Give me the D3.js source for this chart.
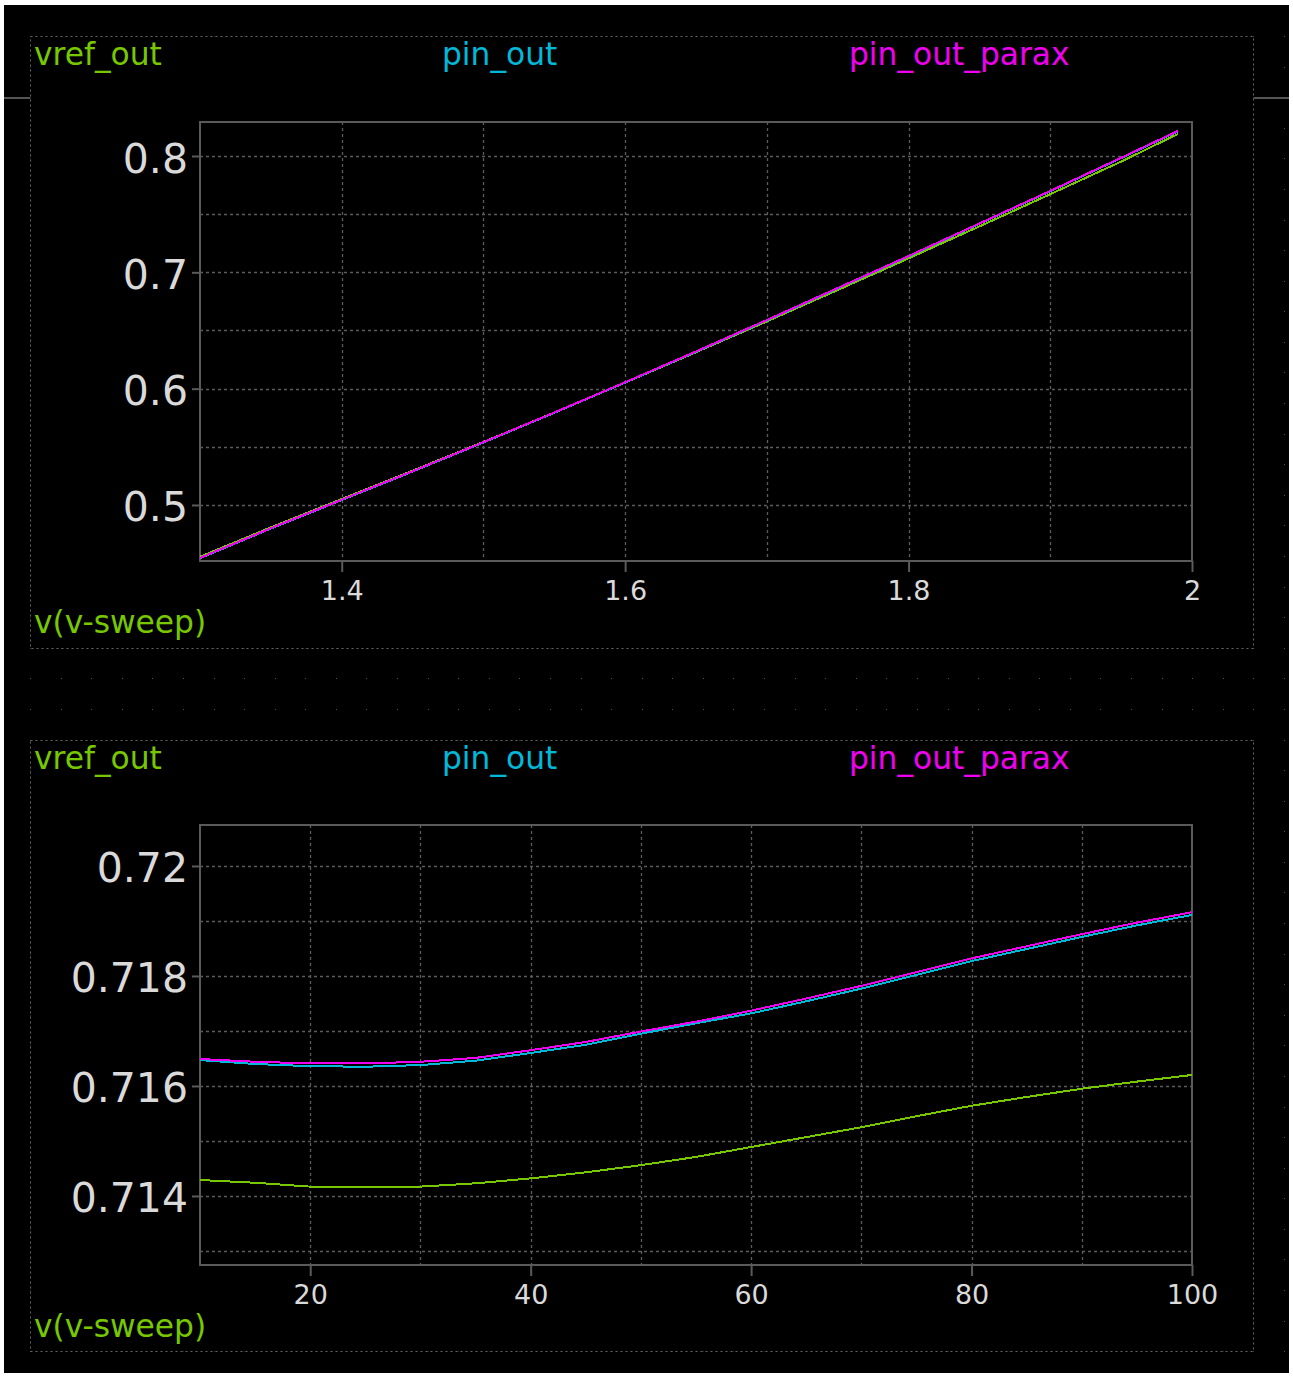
<!DOCTYPE html>
<html>
<head>
<meta charset="utf-8">
<script src="https://cdn.jsdelivr.net/npm/d3@7"></script>
<style>
  html, body { margin: 0; padding: 0; background: #fff; }
  svg { display: block; }
  text { font-family: "DejaVu Sans", sans-serif; }
</style>
</head>
<body>
<script>
// ---- Panel 1: DC sweep of v-sweep ----
const sweepV = [1.3, 1.35, 1.4, 1.45, 1.5, 1.55, 1.6, 1.65, 1.7, 1.75, 1.8, 1.85, 1.9, 1.95, 1.99];
const vrefOutDC = [0.4555, 0.4808, 0.5052, 0.5295, 0.5542, 0.5795, 0.6052, 0.6313, 0.6578, 0.6848, 0.7120, 0.7395, 0.7672, 0.7952, 0.8189];
const pinOutDC = [0.4542, 0.4797, 0.5042, 0.5287, 0.5537, 0.5792, 0.6052, 0.6317, 0.6587, 0.6862, 0.7137, 0.7417, 0.7697, 0.7982, 0.8211];
const pinOutParaxDC = [0.4545, 0.4800, 0.5045, 0.5290, 0.5540, 0.5795, 0.6055, 0.6320, 0.6590, 0.6865, 0.7140, 0.7420, 0.7700, 0.7985, 0.8215];
const dcXTicks = [1.4, 1.6, 1.8, 2];
const dcXGrid = [1.4, 1.5, 1.6, 1.7, 1.8, 1.9];
const dcYTicks = [0.5, 0.6, 0.7, 0.8];
const dcYGrid = [0.5, 0.55, 0.6, 0.65, 0.7, 0.75, 0.8];

// ---- Panel 2: temperature sweep ----
const temps = [10, 15, 20, 25, 30, 35, 40, 45, 50, 55, 60, 65, 70, 75, 80, 85, 90, 95, 100];
const vrefOutT = [0.71429, 0.71424, 0.71417, 0.71416, 0.71417, 0.71423, 0.71432, 0.71443, 0.71456, 0.71471, 0.71489, 0.71507, 0.71525, 0.71545, 0.71564, 0.71580, 0.71595, 0.71608, 0.71620];
const pinOutT = [0.71647, 0.71640, 0.71636, 0.71635, 0.71638, 0.71646, 0.71660, 0.71675, 0.71695, 0.71714, 0.71732, 0.71754, 0.71777, 0.71802, 0.71827, 0.71849, 0.71871, 0.71892, 0.71911];
const pinOutParaxT = [0.71649, 0.71644, 0.71641, 0.71641, 0.71644, 0.71651, 0.71665, 0.71680, 0.71699, 0.71717, 0.71737, 0.71759, 0.71782, 0.71807, 0.71832, 0.71854, 0.71876, 0.71897, 0.71916];
const tXTicks = [20, 40, 60, 80, 100];
const tXGrid = [20, 30, 40, 50, 60, 70, 80, 90];
const tYTicks = [0.714, 0.716, 0.718, 0.72];
const tYGrid = [0.713, 0.714, 0.715, 0.716, 0.717, 0.718, 0.719, 0.72];

const legendNames = ["vref_out", "pin_out", "pin_out_parax"];
const xAxisName = "v(v-sweep)";

const GREEN = "#77c800", CYAN = "#00b8d8", MAGENTA = "#f000f0";
const FRAME = "#5a5a5a", GRID = "#5c5c5c", TICKTXT = "#dadada";

const W = 1293, H = 1380;
const svg = d3.select("body").append("svg").attr("width", W).attr("height", H);

// black window area
svg.append("rect").attr("x", 4).attr("y", 5).attr("width", 1285).attr("height", 1368).attr("fill", "#000");

// background dot lattice of the waveform window
const dotX = d3.range(0, 42).map(i => 30 + i * 30.585);
const dotY = d3.range(0, 44).map(i => 36 + i * 30.587).filter(y => y <= 1352);
const dots = svg.append("g");
dotY.forEach(y => dotX.forEach(x => {
  dots.append("rect").attr("x", Math.round(x)).attr("y", Math.round(y)).attr("width", 1).attr("height", 1).attr("fill", "#555");
}));

// splitter line
svg.append("line").attr("x1", 4).attr("x2", 1289).attr("y1", 98).attr("y2", 98)
  .attr("stroke", "#555").attr("stroke-width", 2);

function panel(cfg) {
  const g = svg.append("g");
  // panel box
  g.append("rect").attr("x", cfg.box[0] + 0.5).attr("y", cfg.box[1] + 0.5)
    .attr("width", cfg.box[2]).attr("height", cfg.box[3])
    .attr("fill", "#000").attr("stroke", "#666").attr("stroke-width", 1)
    .attr("stroke-dasharray", "2,3");

  const x = d3.scaleLinear().domain(cfg.xDomain).range([cfg.plot[0], cfg.plot[2]]);
  const y = d3.scaleLinear().domain(cfg.yDomain).range([cfg.plot[3], cfg.plot[1]]);

  // grid
  g.append("g").selectAll("line").data(cfg.xGrid).join("line")
    .attr("x1", d => Math.round(x(d)) + 0.5).attr("x2", d => Math.round(x(d)) + 0.5)
    .attr("y1", cfg.plot[1]).attr("y2", cfg.plot[3])
    .attr("stroke", GRID).attr("stroke-width", 1.3).attr("stroke-dasharray", "3,3");
  g.append("g").selectAll("line").data(cfg.yGrid).join("line")
    .attr("y1", d => Math.round(y(d)) + 0.5).attr("y2", d => Math.round(y(d)) + 0.5)
    .attr("x1", cfg.plot[0]).attr("x2", cfg.plot[2])
    .attr("stroke", GRID).attr("stroke-width", 1.3).attr("stroke-dasharray", "3,3");

  // axes
  const ax = g.append("g").attr("transform", `translate(0,${cfg.plot[3]})`)
    .call(d3.axisBottom(x).tickValues(cfg.xTicks).tickSize(11).tickPadding(9).tickFormat(d => String(d)));
  ax.select(".domain").remove();
  ax.selectAll("line").attr("stroke", FRAME).attr("stroke-width", 2);
  ax.selectAll("text").attr("fill", TICKTXT).attr("font-size", 27).attr("font-family", "DejaVu Sans");

  const ay = g.append("g").attr("transform", `translate(${cfg.plot[0]},0)`)
    .call(d3.axisLeft(y).tickValues(cfg.yTicks).tickSize(8).tickPadding(4).tickFormat(d => String(+d.toFixed(3))));
  ay.select(".domain").remove();
  ay.selectAll("line").attr("stroke", FRAME).attr("stroke-width", 2);
  ay.selectAll("text").attr("fill", TICKTXT).attr("font-size", 41).attr("dy", "0.39em").attr("font-family", "DejaVu Sans");

  // frame
  g.append("rect").attr("x", cfg.plot[0]).attr("y", cfg.plot[1])
    .attr("width", cfg.plot[2] - cfg.plot[0]).attr("height", cfg.plot[3] - cfg.plot[1])
    .attr("fill", "none").attr("stroke", FRAME).attr("stroke-width", 2);

  // traces
  const line = d3.line().x((d, i) => x(cfg.xs[i])).y(d => y(d));
  [[cfg.series[0], GREEN], [cfg.series[1], CYAN], [cfg.series[2], MAGENTA]].forEach(([s, c]) => {
    g.append("path").datum(s).attr("d", line).attr("fill", "none")
      .attr("stroke", c).attr("stroke-width", 2).attr("shape-rendering", "crispEdges");
  });

  // legend & x-axis name
  const ly = cfg.box[1] + 29;
  [[legendNames[0], 34, GREEN], [legendNames[1], 442, CYAN], [legendNames[2], 849, MAGENTA]].forEach(([t, lx, c]) => {
    g.append("text").attr("x", lx).attr("y", ly).attr("fill", c).attr("font-size", 31.3).text(t);
  });
  g.append("text").attr("x", 34).attr("y", cfg.box[1] + 597).attr("fill", GREEN).attr("font-size", 31.3).text(xAxisName);
}

panel({
  box: [30, 36, 1223, 612],
  plot: [200, 122, 1192, 561],
  xDomain: [1.3, 2.0], yDomain: [0.45185, 0.82923],
  xTicks: dcXTicks, xGrid: dcXGrid, yTicks: dcYTicks, yGrid: dcYGrid,
  xs: sweepV, series: [vrefOutDC, pinOutDC, pinOutParaxDC]
});

panel({
  box: [30, 740, 1223, 611],
  plot: [200, 825, 1192, 1265],
  xDomain: [10, 100], yDomain: [0.712745, 0.720745],
  xTicks: tXTicks, xGrid: tXGrid, yTicks: tYTicks, yGrid: tYGrid,
  xs: temps, series: [vrefOutT, pinOutT, pinOutParaxT]
});
</script>
</body>
</html>
